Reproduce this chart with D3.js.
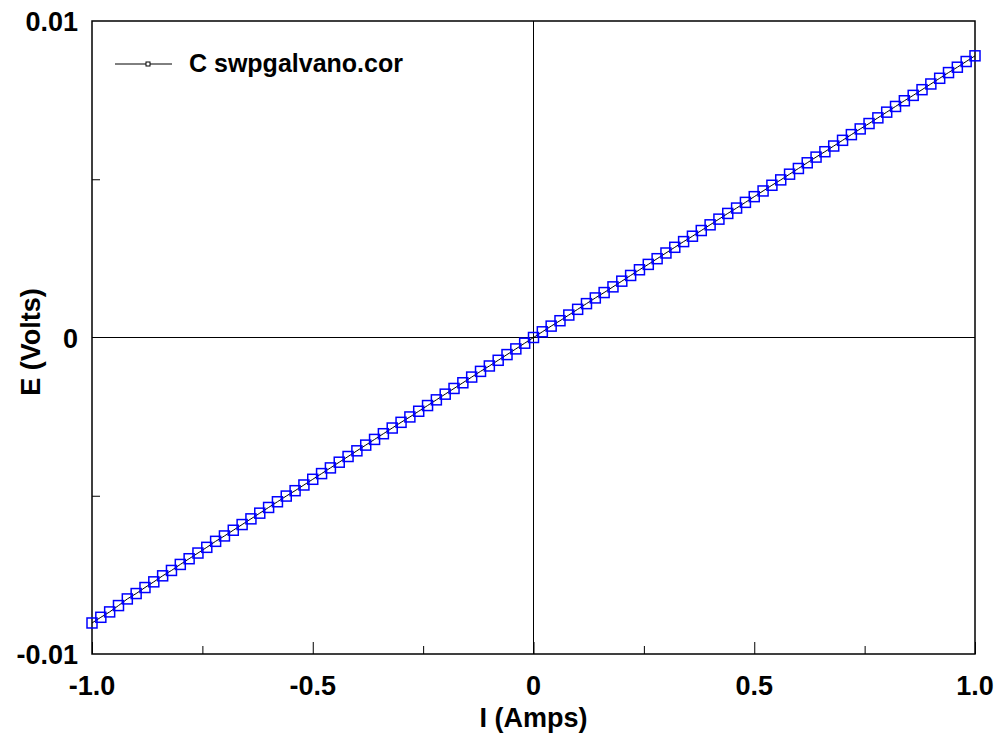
<!doctype html>
<html>
<head>
<meta charset="utf-8">
<title>E vs I</title>
<script src="https://d3js.org/d3.v7.min.js"></script>
<style>
  body { margin: 0; background: #fff; }
  svg text { font-family: "Liberation Sans", Arial, sans-serif; font-weight: bold; fill: #000; }
</style>
</head>
<body>
<svg id="chart" width="994" height="735"></svg>
<script>
// current (A)
var currents = [
  -1.00, -0.98, -0.96, -0.94, -0.92, -0.90, -0.88, -0.86, -0.84, -0.82,
  -0.80, -0.78, -0.76, -0.74, -0.72, -0.70, -0.68, -0.66, -0.64, -0.62,
  -0.60, -0.58, -0.56, -0.54, -0.52, -0.50, -0.48, -0.46, -0.44, -0.42,
  -0.40, -0.38, -0.36, -0.34, -0.32, -0.30, -0.28, -0.26, -0.24, -0.22,
  -0.20, -0.18, -0.16, -0.14, -0.12, -0.10, -0.08, -0.06, -0.04, -0.02,
   0.00,
   0.02, 0.04, 0.06, 0.08, 0.10, 0.12, 0.14, 0.16, 0.18, 0.20,
   0.22, 0.24, 0.26, 0.28, 0.30, 0.32, 0.34, 0.36, 0.38, 0.40,
   0.42, 0.44, 0.46, 0.48, 0.50, 0.52, 0.54, 0.56, 0.58, 0.60,
   0.62, 0.64, 0.66, 0.68, 0.70, 0.72, 0.74, 0.76, 0.78, 0.80,
   0.82, 0.84, 0.86, 0.88, 0.90, 0.92, 0.94, 0.96, 0.98, 1.00
];
// potential (V)
var potentials = [
  -0.00902, -0.00884, -0.00867, -0.00847, -0.00826, -0.00809, -0.00790, -0.00772, -0.00753, -0.00736,
  -0.00717, -0.00699, -0.00681, -0.00663, -0.00644, -0.00627, -0.00609, -0.00591, -0.00573, -0.00555,
  -0.00537, -0.00519, -0.00501, -0.00484, -0.00466, -0.00448, -0.00430, -0.00412, -0.00394, -0.00376,
  -0.00358, -0.00340, -0.00322, -0.00304, -0.00286, -0.00268, -0.00251, -0.00233, -0.00215, -0.00197,
  -0.00179, -0.00161, -0.00143, -0.00125, -0.00107, -0.00090, -0.00072, -0.00054, -0.00036, -0.00018,
   0.00000,
   0.00018, 0.00036, 0.00053, 0.00071, 0.00089, 0.00107, 0.00125, 0.00142, 0.00160, 0.00178,
   0.00196, 0.00214, 0.00231, 0.00249, 0.00267, 0.00285, 0.00303, 0.00320, 0.00338, 0.00356,
   0.00374, 0.00392, 0.00409, 0.00427, 0.00445, 0.00463, 0.00481, 0.00498, 0.00516, 0.00534,
   0.00552, 0.00570, 0.00587, 0.00605, 0.00623, 0.00641, 0.00659, 0.00676, 0.00694, 0.00712,
   0.00730, 0.00748, 0.00765, 0.00783, 0.00801, 0.00819, 0.00837, 0.00854, 0.00872, 0.00890
];
var xTickValues = [-1.0, -0.5, 0, 0.5, 1.0];
var xTickLabels = ["-1.0", "-0.5", "0", "0.5", "1.0"];
var xMinorTicks = [-0.75, -0.25, 0.25, 0.75];
var yTickValues = [-0.01, 0, 0.01];
var yTickLabels = ["-0.01", "0", "0.01"];
var yMinorTicks = [-0.005, 0.005];
var seriesName = "C swpgalvano.cor";

var margin = {top: 21, right: 19, bottom: 81, left: 92},
    width = 994, height = 735;

var svg = d3.select("#chart");

var x = d3.scaleLinear().domain([-1, 1]).range([margin.left, width - margin.right]);
var y = d3.scaleLinear().domain([-0.01, 0.01]).range([height - margin.bottom, margin.top]);

// zero lines
svg.append("line")
    .attr("x1", x(0)).attr("x2", x(0))
    .attr("y1", y(-0.01)).attr("y2", y(0.01))
    .attr("stroke", "#000").attr("stroke-width", 1);
svg.append("line")
    .attr("x1", x(-1)).attr("x2", x(1))
    .attr("y1", y(0)).attr("y2", y(0))
    .attr("stroke", "#000").attr("stroke-width", 1);

// ticks inside the frame
var bottomAxis = svg.append("g").attr("transform", `translate(0,${y(-0.01)})`)
    .call(d3.axisTop(x).tickValues(xTickValues).tickSize(12).tickFormat(""));
var bottomMinor = svg.append("g").attr("transform", `translate(0,${y(-0.01)})`)
    .call(d3.axisTop(x).tickValues(xMinorTicks).tickSize(8).tickFormat(""));
var leftMinor = svg.append("g").attr("transform", `translate(${x(-1)},0)`)
    .call(d3.axisRight(y).tickValues(yMinorTicks).tickSize(8).tickFormat(""));
[bottomAxis, bottomMinor, leftMinor].forEach(function(g) {
    g.select(".domain").remove();
    g.selectAll("line").attr("stroke", "#000").attr("stroke-width", 1);
});

// frame
svg.append("rect")
    .attr("x", x(-1)).attr("y", y(0.01))
    .attr("width", x(1) - x(-1)).attr("height", y(-0.01) - y(0.01))
    .attr("fill", "none").attr("stroke", "#000").attr("stroke-width", 1.5);

// tick labels
svg.append("g").selectAll("text")
    .data(xTickValues)
    .join("text")
    .attr("x", d => x(d))
    .attr("y", 695)
    .attr("text-anchor", "middle")
    .style("font-size", "27px")
    .text((d, i) => xTickLabels[i]);

svg.append("g").selectAll("text")
    .data(yTickValues)
    .join("text")
    .attr("x", 78)
    .attr("y", d => y(d) + 10)
    .attr("text-anchor", "end")
    .style("font-size", "27px")
    .text((d, i) => yTickLabels[i]);

// axis titles
svg.append("text")
    .attr("x", x(0)).attr("y", 727)
    .attr("text-anchor", "middle")
    .style("font-size", "27px")
    .text("I (Amps)");
svg.append("text")
    .attr("transform", `translate(40,342) rotate(-90)`)
    .attr("text-anchor", "middle")
    .style("font-size", "27px")
    .text("E (Volts)");

// data
var data = currents.map((c, i) => ({i: c, e: potentials[i]}));

svg.append("path")
    .datum(data)
    .attr("fill", "none")
    .attr("stroke", "#000")
    .attr("stroke-width", 1)
    .attr("d", d3.line().x(d => x(d.i)).y(d => y(d.e)));

svg.append("g").selectAll("rect")
    .data(data)
    .join("rect")
    .attr("x", d => x(d.i) - 5)
    .attr("y", d => y(d.e) - 5)
    .attr("width", 10)
    .attr("height", 10)
    .attr("fill", "none")
    .attr("stroke", "#0000ff")
    .attr("stroke-width", 1.5);

// legend
var legend = svg.append("g");
legend.append("line")
    .attr("x1", 115).attr("x2", 172).attr("y1", 64).attr("y2", 64)
    .attr("stroke", "#000").attr("stroke-width", 1);
legend.append("rect")
    .attr("x", 146).attr("y", 62).attr("width", 4).attr("height", 4)
    .attr("fill", "#fff").attr("stroke", "#000").attr("stroke-width", 1);
legend.append("text")
    .attr("x", 189).attr("y", 72)
    .style("font-size", "25px")
    .text(seriesName);
</script>
</body>
</html>
